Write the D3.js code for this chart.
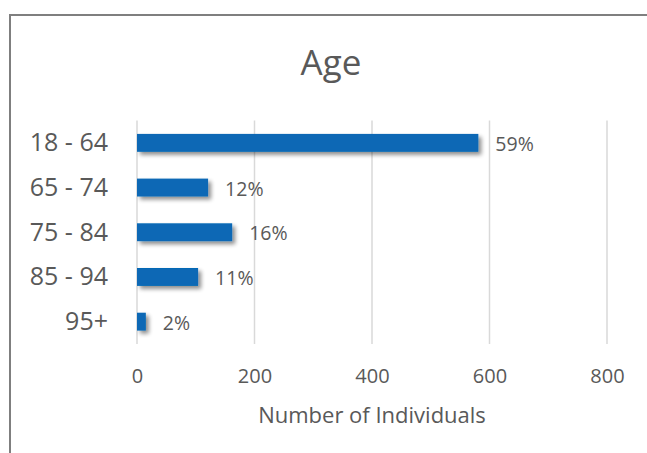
<!DOCTYPE html>
<html>
<head>
<meta charset="utf-8">
<script src="https://cdn.jsdelivr.net/npm/d3@7"></script>
<style>
  html, body { margin: 0; padding: 0; background: #fff; }
  svg { display: block; font-family: "Open Sans", "DejaVu Sans", sans-serif; }
</style>
</head>
<body>
<svg id="chart" width="647" height="453"></svg>
<script>
// Age groups and head counts per group
const categories = ["18 - 64", "65 - 74", "75 - 84", "85 - 94", "95+"];
const counts = [581, 121, 162, 104, 15];
const xTicks = [0, 200, 400, 600, 800];
const chartTitle = "Age";
const xTitle = "Number of Individuals";

const total = d3.sum(counts);
const shares = counts.map(c => Math.round(c / total * 100) + "%");

const svg = d3.select("#chart");
const W = 647, H = 453;
const plot = { left: 137, right: 607, top: 120.5, bottom: 344 };
const textColor = "#595959";

// Chart frame (top and left edges show)
svg.append("line").attr("x1", 9).attr("x2", W).attr("y1", 15).attr("y2", 15)
  .attr("stroke", "#7f7f7f").attr("stroke-width", 2);
svg.append("line").attr("x1", 10).attr("x2", 10).attr("y1", 15).attr("y2", H)
  .attr("stroke", "#7f7f7f").attr("stroke-width", 2);

// Soft drop shadow under the bars
const defs = svg.append("defs");
const f = defs.append("filter").attr("id", "shadow")
  .attr("x", "-20%").attr("y", "-40%").attr("width", "150%").attr("height", "220%");
f.append("feGaussianBlur").attr("in", "SourceAlpha").attr("stdDeviation", 2).attr("result", "blur");
f.append("feOffset").attr("in", "blur").attr("dx", 3).attr("dy", 3).attr("result", "off");
f.append("feComponentTransfer").attr("in", "off").attr("result", "shade")
  .append("feFuncA").attr("type", "linear").attr("slope", 0.45);
const merge = f.append("feMerge");
merge.append("feMergeNode").attr("in", "shade");
merge.append("feMergeNode").attr("in", "SourceGraphic");

const x = d3.scaleLinear().domain([0, 800]).range([plot.left, plot.right]);
const y = d3.scaleBand().domain(categories).range([plot.top, plot.bottom]).paddingInner(0.6).paddingOuter(0.3);

// Title
svg.append("text").attr("x", 331).attr("y", 75).attr("text-anchor", "middle")
  .attr("font-size", 35).attr("fill", textColor).text(chartTitle);

// Vertical gridlines
svg.append("g").selectAll("line").data(xTicks).join("line")
  .attr("x1", d => x(d)).attr("x2", d => x(d))
  .attr("y1", plot.top).attr("y2", plot.bottom)
  .attr("stroke", "#d9d9d9").attr("stroke-width", 1.5);

// X axis tick labels
const xAxis = d3.axisBottom(x).tickValues(xTicks).tickSize(0).tickPadding(0);
const gx = svg.append("g").attr("transform", `translate(0,${plot.bottom})`).call(xAxis);
gx.select(".domain").remove();
gx.selectAll("text").attr("font-size", 20).attr("fill", textColor)
  .attr("font-family", "Open Sans").attr("dy", null).attr("y", 39);

// Category axis labels
const yAxis = d3.axisLeft(y).tickSize(0).tickPadding(0);
const gy = svg.append("g").attr("transform", "translate(108,0)").call(yAxis);
gy.select(".domain").remove();
gy.selectAll("text").attr("font-size", 25).attr("fill", textColor)
  .attr("font-family", "Open Sans").attr("dy", "0.34em");

// Bars
svg.append("g").attr("filter", "url(#shadow)").selectAll("rect")
  .data(counts).join("rect")
  .attr("x", x(0))
  .attr("y", (d, i) => y(categories[i]))
  .attr("width", d => x(d) - x(0))
  .attr("height", y.bandwidth())
  .attr("fill", "#0767b5");

// Share labels
svg.append("g").selectAll("text").data(counts).join("text")
  .attr("x", d => x(d) + 17)
  .attr("y", (d, i) => y(categories[i]) + y.bandwidth() / 2 + 8)
  .attr("font-size", 19.5).attr("fill", textColor)
  .text((d, i) => shares[i]);

// X axis title
svg.append("text").attr("x", (plot.left + plot.right) / 2).attr("y", 423)
  .attr("text-anchor", "middle").attr("font-size", 22).attr("fill", textColor)
  .text(xTitle);
</script>
</body>
</html>
